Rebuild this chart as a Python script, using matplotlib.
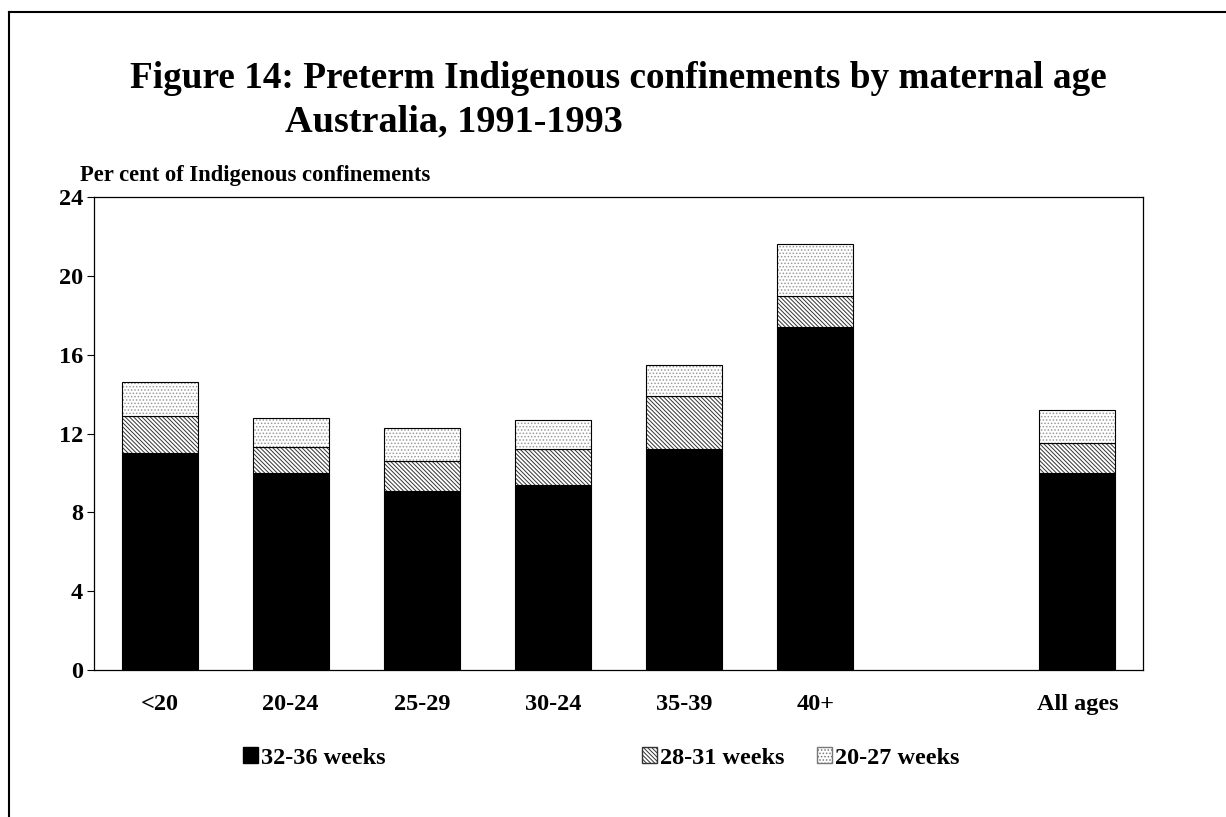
import numpy as np
import matplotlib.pyplot as plt
from matplotlib.patches import Patch
from matplotlib.lines import Line2D

plt.rcParams['font.family'] = ['Liberation Serif', 'DejaVu Serif']
plt.rcParams['font.weight'] = 'bold'
plt.rcParams['hatch.linewidth'] = 0.7

# data (per cent of Indigenous confinements)
ages = ['<20', '20-24', '25-29', '30-24', '35-39', '40+', 'All ages']
xpos = [0, 1, 2, 3, 4, 5, 7]
w32_36 = [11.0, 10.0, 9.1, 9.4, 11.2, 17.4, 10.0]
w28_31 = [1.9, 1.3, 1.5, 1.8, 2.7, 1.6, 1.5]
w20_27 = [1.7, 1.5, 1.7, 1.5, 1.6, 2.6, 1.7]

diag = '\\' * 8
dots = '.....'

fig = plt.figure(figsize=(12.26, 8.17), dpi=100)
ax = fig.add_axes([94/1226, 1-670/817, (1143-94)/1226, (670-197)/817])

width = 0.58
b1 = np.array(w32_36)
b2 = b1 + np.array(w28_31)

ax.bar(xpos, w32_36, width, color='black', edgecolor='black', linewidth=0.8)
ax.bar(xpos, w28_31, width, bottom=b1, color='white', edgecolor='#333333',
       hatch=diag, linewidth=0)
ax.bar(xpos, w28_31, width, bottom=b1, fill=False, edgecolor='black', linewidth=0.8)
ax.bar(xpos, w20_27, width, bottom=b2, color='white', edgecolor='#999999',
       hatch=dots, linewidth=0)
ax.bar(xpos, w20_27, width, bottom=b2, fill=False, edgecolor='black', linewidth=0.8)

ax.set_xlim(-0.5, 7.5)
ax.set_ylim(0, 24)
ax.set_yticks(range(0, 25, 4))
ax.set_xticks(xpos)
ax.set_xticklabels(ages)
ax.tick_params(axis='x', length=0, pad=17, labelsize=17.5)
ax.tick_params(axis='y', direction='out', length=5, width=0.8, pad=3, labelsize=17.5)
for s in ax.spines.values():
    s.set_linewidth(0.9)

fig.text(80/1226, 1-175/817, 'Per cent of Indigenous confinements', fontsize=16.3,
         ha='left', va='center')

fig.text(618/1226, 1-78/817, 'Figure 14: Preterm Indigenous confinements by maternal age',
         fontsize=26.8, ha='center', va='center')
fig.text(285/1226, 1-122/817, 'Australia, 1991-1993', fontsize=27.5, ha='left', va='center')

# legend, three separate entries
entries = [
    (Patch(facecolor='black', edgecolor='black'), '32-36 weeks', 243),
    (Patch(facecolor='white', edgecolor='#333333', hatch=diag), '28-31 weeks', 642),
    (Patch(facecolor='white', edgecolor='#777777', hatch=dots), '20-27 weeks', 817),
]
for h, lab, xl in entries:
    lg = fig.legend([h], [lab], loc='center left', bbox_to_anchor=(xl/1226, 1-758/817),
                    frameon=False, fontsize=17.5, handlelength=0.6, handleheight=0.6,
                    handletextpad=0.15, borderpad=0, borderaxespad=0)

# page frame
fig.add_artist(Line2D([9/1226, 9/1226], [0, 1-12/817], transform=fig.transFigure,
                      color='black', linewidth=1.5))
fig.add_artist(Line2D([9/1226, 1], [1-12/817, 1-12/817], transform=fig.transFigure,
                      color='black', linewidth=1.5))

fig.savefig('out.png', dpi=100)
